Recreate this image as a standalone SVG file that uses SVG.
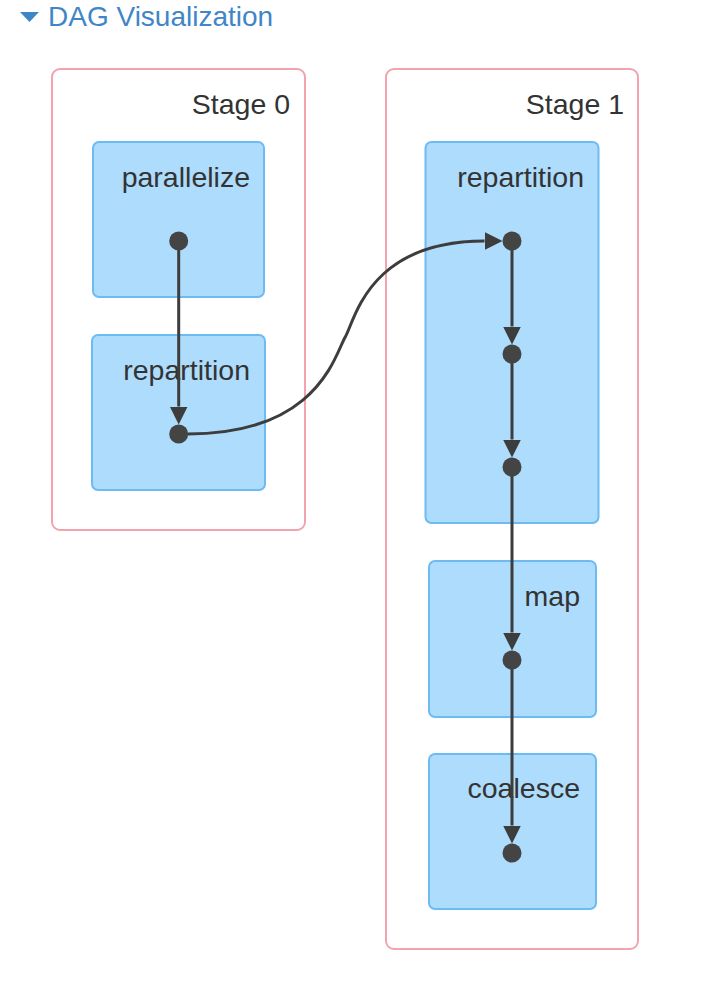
<svg xmlns="http://www.w3.org/2000/svg" width="716" height="994" viewBox="0 0 716 994">
<style>
.stage{fill:#ffffff;stroke:#f2a3ae;stroke-width:2}
.node{fill:#addcfc;stroke:#6cbbf2;stroke-width:2}
.lbl{font-family:"Liberation Sans",Arial,sans-serif;font-size:28.5px;fill:#333333;text-anchor:end}
.dot{fill:#444444}
.edge{fill:none;stroke:#3d3d3d;stroke-width:3}
.title{font-family:"Liberation Sans",Arial,sans-serif;font-size:28px;fill:#3f86c8}
</style>
<defs>
<marker id="arr" markerUnits="userSpaceOnUse" markerWidth="18" markerHeight="18" viewBox="0 0 18 18" refX="0" refY="9" orient="auto">
<path d="M0,0 L18,9 L0,18 z" fill="#3d3d3d"/>
</marker>
</defs>
<rect width="716" height="994" fill="#ffffff"/>
<g id="title">
<path d="M20,12 L39,12 L29.5,22 z" fill="#3f86c8"/>
<text class="title" x="48" y="26">DAG Visualization</text>
</g>
<g id="stage0">
<rect class="stage" x="52" y="69" width="253" height="461" rx="8"/>
<text class="lbl" x="290" y="114">Stage 0</text>
</g>
<g id="stage1">
<rect class="stage" x="386" y="69" width="252" height="880" rx="8"/>
<text class="lbl" x="624" y="114">Stage 1</text>
</g>
<g id="node-parallelize">
<rect class="node" x="93" y="142" width="171" height="155" rx="6"/>
<text class="lbl" x="250" y="187">parallelize</text>
</g>
<g id="node-repartition0">
<rect class="node" x="92" y="335" width="173" height="155" rx="6"/>
<text class="lbl" x="250" y="380">repartition</text>
</g>
<g id="node-repartition1">
<rect class="node" x="425.5" y="142" width="173" height="381" rx="6"/>
<text class="lbl" x="584" y="187">repartition</text>
</g>
<g id="node-map">
<rect class="node" x="429" y="561" width="167" height="156" rx="6"/>
<text class="lbl" x="580" y="606">map</text>
</g>
<g id="node-coalesce">
<rect class="node" x="429" y="754" width="167" height="155" rx="6"/>
<text class="lbl" x="580" y="798">coalesce</text>
</g>
<g id="connectors">
<path class="edge" d="M178.7,241 L178.7,406.5" marker-end="url(#arr)"/>
<path class="edge" d="M188,434 C318,434 335,354.5 345,337.5 C355,320.5 368,241 484.5,241" marker-end="url(#arr)"/>
<path class="edge" d="M512,241 L512,326.5" marker-end="url(#arr)"/>
<path class="edge" d="M512,354 L512,439.5" marker-end="url(#arr)"/>
<path class="edge" d="M512,467 L512,632.5" marker-end="url(#arr)"/>
<path class="edge" d="M512,660 L512,825.5" marker-end="url(#arr)"/>
</g>
<g id="dots">
<circle class="dot" cx="178.7" cy="241" r="9.5"/>
<circle class="dot" cx="178.7" cy="434" r="9.5"/>
<circle class="dot" cx="512" cy="241" r="9.5"/>
<circle class="dot" cx="512" cy="354" r="9.5"/>
<circle class="dot" cx="512" cy="467" r="9.5"/>
<circle class="dot" cx="512" cy="660" r="9.5"/>
<circle class="dot" cx="512" cy="853" r="9.5"/>
</g>
</svg>
